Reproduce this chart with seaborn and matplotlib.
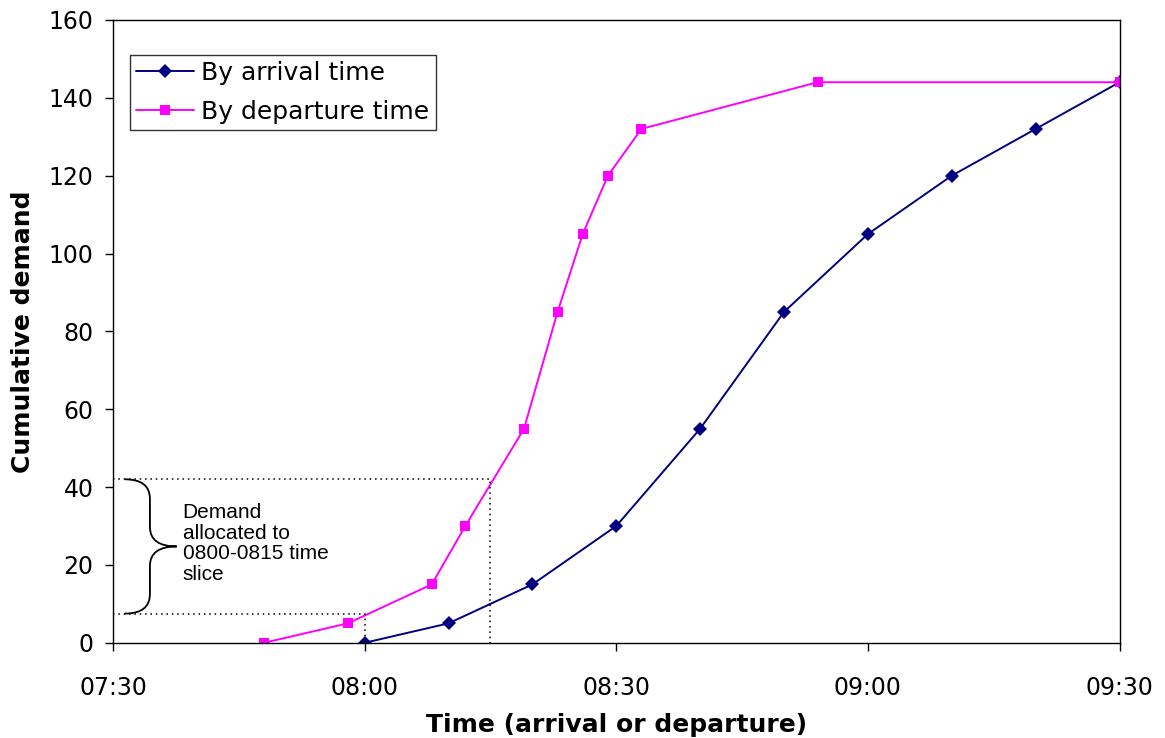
import numpy as np
import pandas as pd
import matplotlib
matplotlib.use("Agg")
import matplotlib.pyplot as plt
from matplotlib.path import Path
from matplotlib.patches import PathPatch
import seaborn as sns

# DATA
arrival_times = ["08:00", "08:10", "08:20", "08:30", "08:40", "08:50",
                 "09:00", "09:10", "09:20", "09:30"]
arrival_demand = [0, 5, 15, 30, 55, 85, 105, 120, 132, 144]

departure_times = ["07:48", "07:58", "08:08", "08:12", "08:19", "08:23",
                   "08:26", "08:29", "08:33", "08:54", "09:30"]
departure_demand = [0, 5, 15, 30, 55, 85, 105, 120, 132, 144, 144]

tick_labels = ["07:30", "08:00", "08:30", "09:00", "09:30"]
y_ticks = [0, 20, 40, 60, 80, 100, 120, 140, 160]

# time slice shown by the dotted guides
slice_start, slice_end = "08:00", "08:15"
slice_low, slice_high = 7.5, 42


def to_min(t):
    """minutes after 07:30"""
    h, m = t.split(":")
    return int(h) * 60 + int(m) - (7 * 60 + 30)


arr = pd.DataFrame({"t": [to_min(t) for t in arrival_times],
                    "demand": arrival_demand})
dep = pd.DataFrame({"t": [to_min(t) for t in departure_times],
                    "demand": departure_demand})

sns.set_style("ticks")
plt.rcParams["font.family"] = ["DejaVu Sans"]
plt.rcParams["text.color"] = "black"
plt.rcParams["axes.labelcolor"] = "black"
plt.rcParams["xtick.color"] = "black"
plt.rcParams["ytick.color"] = "black"

fig = plt.figure(figsize=(11.65, 7.38), dpi=100)
ax = fig.add_axes([0.097, 0.129, 0.864, 0.844])

sns.lineplot(data=arr, x="t", y="demand", ax=ax, color="#000080",
             marker="D", markersize=7.5, markeredgewidth=0, linewidth=1.4,
             label="By arrival time")
sns.lineplot(data=dep, x="t", y="demand", ax=ax, color="#FF00FF",
             marker="s", markersize=7, markeredgewidth=0, linewidth=1.4,
             label="By departure time")

# dotted guides for the 08:00-08:15 slice
x0, x1 = to_min(slice_start), to_min(slice_end)
ax.plot([0, x1, x1], [slice_high, slice_high, 0], ls=(0, (1, 2.5)),
        color="black", lw=1.1, clip_on=False)
ax.plot([0, x0, x0], [slice_low, slice_low, 0], ls=(0, (1, 2.5)),
        color="black", lw=1.1, clip_on=False)

# curly brace
bx0, bx1, bx2 = 1.4, 4.4, 7.6
ymid = (slice_high + slice_low) / 2
r = 5
verts = [(bx0, slice_high), (bx1, slice_high), (bx1, slice_high - r),
         (bx1, ymid + r), (bx1, ymid), (bx2, ymid),
         (bx1, ymid), (bx1, ymid - r), (bx1, slice_low + r),
         (bx1, slice_low), (bx0, slice_low)]
codes = [Path.MOVETO, Path.CURVE3, Path.CURVE3,
         Path.LINETO, Path.CURVE3, Path.CURVE3,
         Path.CURVE3, Path.CURVE3, Path.LINETO,
         Path.CURVE3, Path.CURVE3]
ax.add_patch(PathPatch(Path(verts, codes), fill=False, lw=1.3, color="black"))

ax.text(8.3, 35.8, "Demand\nallocated to\n0800-0815 time\nslice",
        fontsize=15, family="Liberation Sans", va="top", ha="left",
        linespacing=1.1)

ax.set_xlim(0, 120)
ax.set_ylim(0, 160)
ax.set_xticks([to_min(t) for t in tick_labels])
ax.set_xticklabels(tick_labels)
ax.set_yticks(y_ticks)
ax.tick_params(axis="both", labelsize=17, direction="out", length=6,
               width=1, color="black")
ax.tick_params(axis="x", pad=18)
ax.tick_params(axis="y", pad=8)
for s in ax.spines.values():
    s.set_visible(True)
    s.set_color("black")
    s.set_linewidth(1)

ax.set_xlabel("Time (arrival or departure)", fontsize=18, fontweight="bold",
              labelpad=9)
ax.set_ylabel("Cumulative demand", fontsize=18, fontweight="bold",
              labelpad=10)

leg = ax.legend(loc="upper left", bbox_to_anchor=(0.017, 0.944), fontsize=18,
                frameon=True, fancybox=False, edgecolor="black",
                borderpad=0.25, handlelength=2.3, handletextpad=0.3,
                labelspacing=0.6, borderaxespad=0)
leg.get_frame().set_linewidth(1)

fig.savefig("out.png", dpi=100, facecolor="white")
